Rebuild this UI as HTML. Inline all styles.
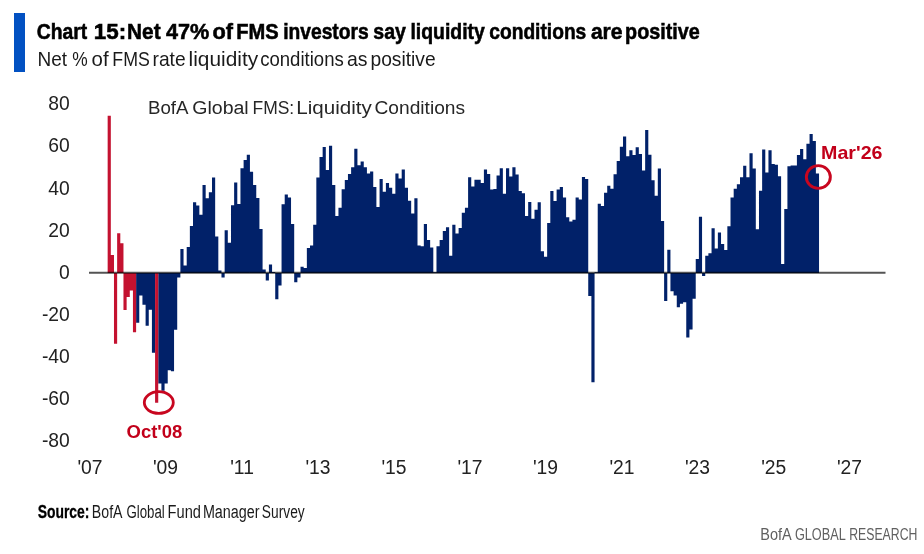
<!DOCTYPE html>
<html><head><meta charset="utf-8"><style>
html,body{margin:0;padding:0;background:#fff;width:924px;height:554px;overflow:hidden}
svg{display:block;will-change:transform}
text{font-family:"Liberation Sans",sans-serif}
.ax{font-size:19.3px;fill:#222}
</style></head><body>
<svg width="924" height="554" viewBox="0 0 924 554">
<rect x="0" y="0" width="924" height="554" fill="#fff"/>
<rect x="14" y="13" width="11" height="59" fill="#0251C2"/>
<text x="36.81" y="39" font-size="21.5" font-weight="bold" fill="#000" stroke="#000" stroke-width="0.55" textLength="50.43" lengthAdjust="spacingAndGlyphs">Chart</text><text x="93.79" y="39" font-size="21.5" font-weight="bold" fill="#000" stroke="#000" stroke-width="0.55" textLength="32.36" lengthAdjust="spacingAndGlyphs">15:</text><text x="127.11" y="39" font-size="21.5" font-weight="bold" fill="#000" stroke="#000" stroke-width="0.55" textLength="33.44" lengthAdjust="spacingAndGlyphs">Net</text><text x="166.07" y="39" font-size="21.5" font-weight="bold" fill="#000" stroke="#000" stroke-width="0.55" textLength="43.30" lengthAdjust="spacingAndGlyphs">47%</text><text x="212.45" y="39" font-size="21.5" font-weight="bold" fill="#000" stroke="#000" stroke-width="0.55" textLength="20.51" lengthAdjust="spacingAndGlyphs">of</text><text x="236.26" y="39" font-size="21.5" font-weight="bold" fill="#000" stroke="#000" stroke-width="0.55" textLength="42.43" lengthAdjust="spacingAndGlyphs">FMS</text><text x="283.16" y="39" font-size="21.5" font-weight="bold" fill="#000" stroke="#000" stroke-width="0.55" textLength="85.53" lengthAdjust="spacingAndGlyphs">investors</text><text x="373.31" y="39" font-size="21.5" font-weight="bold" fill="#000" stroke="#000" stroke-width="0.55" textLength="32.59" lengthAdjust="spacingAndGlyphs">say</text><text x="410.44" y="39" font-size="21.5" font-weight="bold" fill="#000" stroke="#000" stroke-width="0.55" textLength="74.46" lengthAdjust="spacingAndGlyphs">liquidity</text><text x="489.25" y="39" font-size="21.5" font-weight="bold" fill="#000" stroke="#000" stroke-width="0.55" textLength="97.04" lengthAdjust="spacingAndGlyphs">conditions</text><text x="590.88" y="39" font-size="21.5" font-weight="bold" fill="#000" stroke="#000" stroke-width="0.55" textLength="31.64" lengthAdjust="spacingAndGlyphs">are</text><text x="625.10" y="39" font-size="21.5" font-weight="bold" fill="#000" stroke="#000" stroke-width="0.55" textLength="74.58" lengthAdjust="spacingAndGlyphs">positive</text>
<text x="37.44" y="65.7" font-size="19.8" fill="#1a1a1a"  textLength="29.60" lengthAdjust="spacingAndGlyphs">Net</text><text x="72.28" y="65.7" font-size="19.8" fill="#1a1a1a"  textLength="15.44" lengthAdjust="spacingAndGlyphs">%</text><text x="91.54" y="65.7" font-size="19.8" fill="#1a1a1a"  textLength="17.03" lengthAdjust="spacingAndGlyphs">of</text><text x="112.34" y="65.7" font-size="19.8" fill="#1a1a1a"  textLength="37.47" lengthAdjust="spacingAndGlyphs">FMS</text><text x="152.52" y="65.7" font-size="19.8" fill="#1a1a1a"  textLength="33.13" lengthAdjust="spacingAndGlyphs">rate</text><text x="188.59" y="65.7" font-size="19.8" fill="#1a1a1a"  textLength="69.55" lengthAdjust="spacingAndGlyphs">liquidity</text><text x="260.21" y="65.7" font-size="19.8" fill="#1a1a1a"  textLength="83.56" lengthAdjust="spacingAndGlyphs">conditions</text><text x="347.07" y="65.7" font-size="19.8" fill="#1a1a1a"  textLength="20.53" lengthAdjust="spacingAndGlyphs">as</text><text x="370.46" y="65.7" font-size="19.8" fill="#1a1a1a"  textLength="65.19" lengthAdjust="spacingAndGlyphs">positive</text>
<text x="147.96" y="113.6" font-size="18" fill="#262626"  textLength="40.57" lengthAdjust="spacingAndGlyphs">BofA</text><text x="192.22" y="113.6" font-size="18" fill="#262626"  textLength="56.49" lengthAdjust="spacingAndGlyphs">Global</text><text x="252.47" y="113.6" font-size="18" fill="#262626"  textLength="41.73" lengthAdjust="spacingAndGlyphs">FMS:</text><text x="296.31" y="113.6" font-size="18" fill="#262626"  textLength="75.53" lengthAdjust="spacingAndGlyphs">Liquidity</text><text x="374.53" y="113.6" font-size="18" fill="#262626"  textLength="90.57" lengthAdjust="spacingAndGlyphs">Conditions</text>
<text transform="translate(69.8,110.38) scale(1.0,1)" text-anchor="end" class="ax">80</text><text transform="translate(69.8,152.46) scale(1.0,1)" text-anchor="end" class="ax">60</text><text transform="translate(69.8,194.54) scale(1.0,1)" text-anchor="end" class="ax">40</text><text transform="translate(69.8,236.62) scale(1.0,1)" text-anchor="end" class="ax">20</text><text transform="translate(69.8,278.70) scale(1.0,1)" text-anchor="end" class="ax">0</text><text transform="translate(69.8,320.78) scale(1.0,1)" text-anchor="end" class="ax">-20</text><text transform="translate(69.8,362.86) scale(1.0,1)" text-anchor="end" class="ax">-40</text><text transform="translate(69.8,404.94) scale(1.0,1)" text-anchor="end" class="ax">-60</text><text transform="translate(69.8,447.02) scale(1.0,1)" text-anchor="end" class="ax">-80</text>
<text transform="translate(90.0,473.7) scale(1.0,1)" text-anchor="middle" class="ax">'07</text><text transform="translate(165.5,473.7) scale(1.0,1)" text-anchor="middle" class="ax">'09</text><text transform="translate(242.0,473.7) scale(1.0,1)" text-anchor="middle" class="ax">'11</text><text transform="translate(318.0,473.7) scale(1.0,1)" text-anchor="middle" class="ax">'13</text><text transform="translate(394.0,473.7) scale(1.0,1)" text-anchor="middle" class="ax">'15</text><text transform="translate(470.0,473.7) scale(1.0,1)" text-anchor="middle" class="ax">'17</text><text transform="translate(545.5,473.7) scale(1.0,1)" text-anchor="middle" class="ax">'19</text><text transform="translate(622.0,473.7) scale(1.0,1)" text-anchor="middle" class="ax">'21</text><text transform="translate(697.5,473.7) scale(1.0,1)" text-anchor="middle" class="ax">'23</text><text transform="translate(773.7,473.7) scale(1.0,1)" text-anchor="middle" class="ax">'25</text><text transform="translate(849.5,473.7) scale(1.0,1)" text-anchor="middle" class="ax">'27</text>
<path fill="#012169" d="M136.11 272.90h3.162v49.90h-3.162zM139.28 272.90h3.162v22.54h-3.162zM142.44 272.90h3.162v31.80h-3.162zM145.60 272.90h3.162v52.84h-3.162zM148.76 272.90h3.162v36.85h-3.162zM151.92 272.90h3.162v79.77h-3.162zM158.25 272.90h3.162v110.49h-3.162zM161.41 272.90h3.162v117.86h-3.162zM164.57 272.90h3.162v110.49h-3.162zM167.73 272.90h3.162v97.24h-3.162zM170.89 272.90h3.162v98.29h-3.162zM174.06 272.90h3.162v56.84h-3.162zM177.22 272.90h3.162v4.66h-3.162zM180.38 248.95h3.162v24.05h-3.162zM183.54 265.57h3.162v7.43h-3.162zM186.70 247.05h3.162v25.95h-3.162zM189.86 226.01h3.162v46.99h-3.162zM193.03 202.24h3.162v70.76h-3.162zM196.19 205.39h3.162v67.61h-3.162zM199.35 214.86h3.162v58.14h-3.162zM202.51 184.98h3.162v88.02h-3.162zM205.67 198.24h3.162v74.76h-3.162zM208.83 192.14h3.162v80.86h-3.162zM212.00 177.62h3.162v95.38h-3.162zM215.16 236.53h3.162v36.47h-3.162zM218.32 270.62h3.162v2.38h-3.162zM221.48 272.90h3.162v4.66h-3.162zM224.64 230.22h3.162v42.78h-3.162zM227.80 242.84h3.162v30.16h-3.162zM230.97 205.18h3.162v67.82h-3.162zM234.13 182.46h3.162v90.54h-3.162zM237.29 203.92h3.162v69.08h-3.162zM240.45 168.15h3.162v104.85h-3.162zM243.61 159.95h3.162v113.05h-3.162zM246.77 154.69h3.162v118.31h-3.162zM249.94 171.73h3.162v101.27h-3.162zM253.10 184.98h3.162v88.02h-3.162zM256.26 198.03h3.162v74.97h-3.162zM259.42 228.96h3.162v44.04h-3.162zM262.58 269.56h3.162v3.44h-3.162zM265.74 272.90h3.162v7.61h-3.162zM268.91 264.52h3.162v8.48h-3.162zM272.07 271.88h3.162v1.12h-3.162zM275.23 272.90h3.162v26.33h-3.162zM278.39 272.90h3.162v12.66h-3.162zM281.55 204.13h3.162v68.87h-3.162zM284.71 194.45h3.162v78.55h-3.162zM287.88 197.61h3.162v75.39h-3.162zM291.04 224.12h3.162v48.88h-3.162zM294.20 272.90h3.162v9.29h-3.162zM297.36 272.90h3.162v4.66h-3.162zM300.52 266.83h3.162v6.17h-3.162zM303.68 268.09h3.162v4.91h-3.162zM306.85 248.10h3.162v24.90h-3.162zM310.01 245.58h3.162v27.42h-3.162zM313.17 224.75h3.162v48.25h-3.162zM316.33 177.41h3.162v95.59h-3.162zM319.49 157.00h3.162v116.00h-3.162zM322.65 146.90h3.162v126.10h-3.162zM325.82 170.05h3.162v102.95h-3.162zM328.98 145.64h3.162v127.36h-3.162zM332.14 184.98h3.162v88.02h-3.162zM335.30 215.91h3.162v57.09h-3.162zM338.46 207.71h3.162v65.29h-3.162zM341.63 189.19h3.162v83.81h-3.162zM344.79 179.93h3.162v93.07h-3.162zM347.95 174.04h3.162v98.96h-3.162zM351.11 167.31h3.162v105.69h-3.162zM354.27 148.80h3.162v124.20h-3.162zM357.43 165.21h3.162v107.79h-3.162zM360.60 161.42h3.162v111.58h-3.162zM363.76 167.31h3.162v105.69h-3.162zM366.92 173.41h3.162v99.59h-3.162zM370.08 171.52h3.162v101.48h-3.162zM373.24 186.88h3.162v86.12h-3.162zM376.40 207.08h3.162v65.92h-3.162zM379.57 179.09h3.162v93.91h-3.162zM382.73 191.72h3.162v81.28h-3.162zM385.89 182.88h3.162v90.12h-3.162zM389.05 187.72h3.162v85.28h-3.162zM392.21 193.82h3.162v79.18h-3.162zM395.37 173.41h3.162v99.59h-3.162zM398.54 178.46h3.162v94.54h-3.162zM401.70 169.62h3.162v103.38h-3.162zM404.86 187.72h3.162v85.28h-3.162zM408.02 200.76h3.162v72.24h-3.162zM411.18 213.39h3.162v59.61h-3.162zM414.34 198.24h3.162v74.76h-3.162zM417.51 245.58h3.162v27.42h-3.162zM420.67 246.21h3.162v26.79h-3.162zM423.83 224.12h3.162v48.88h-3.162zM426.99 239.90h3.162v33.10h-3.162zM430.15 247.47h3.162v25.53h-3.162zM433.31 272.30h3.162v0.70h-3.162zM436.48 246.21h3.162v26.79h-3.162zM439.64 239.90h3.162v33.10h-3.162zM442.80 231.06h3.162v41.94h-3.162zM445.96 227.27h3.162v45.73h-3.162zM449.12 255.68h3.162v17.32h-3.162zM452.28 224.75h3.162v48.25h-3.162zM455.45 233.59h3.162v39.41h-3.162zM458.61 227.91h3.162v45.09h-3.162zM461.77 212.76h3.162v60.24h-3.162zM464.93 207.71h3.162v65.29h-3.162zM468.09 177.20h3.162v95.80h-3.162zM471.25 186.46h3.162v86.54h-3.162zM474.42 179.72h3.162v93.28h-3.162zM477.58 179.72h3.162v93.28h-3.162zM480.74 183.09h3.162v89.91h-3.162zM483.90 169.62h3.162v103.38h-3.162zM487.06 174.04h3.162v98.96h-3.162zM490.23 189.61h3.162v83.39h-3.162zM493.39 188.98h3.162v84.02h-3.162zM496.55 175.52h3.162v97.48h-3.162zM499.71 168.36h3.162v104.64h-3.162zM502.87 193.82h3.162v79.18h-3.162zM506.03 168.36h3.162v104.64h-3.162zM509.20 176.57h3.162v96.43h-3.162zM512.36 167.31h3.162v105.69h-3.162zM515.52 174.46h3.162v98.54h-3.162zM518.68 191.09h3.162v81.91h-3.162zM521.84 193.19h3.162v79.81h-3.162zM525.00 215.91h3.162v57.09h-3.162zM528.17 202.03h3.162v70.97h-3.162zM531.33 218.65h3.162v54.35h-3.162zM534.49 209.81h3.162v63.19h-3.162zM537.65 202.24h3.162v70.76h-3.162zM540.81 251.26h3.162v21.74h-3.162zM543.97 256.73h3.162v16.27h-3.162zM547.14 223.07h3.162v49.93h-3.162zM550.30 190.88h3.162v82.12h-3.162zM553.46 200.97h3.162v72.03h-3.162zM556.62 189.40h3.162v83.60h-3.162zM559.78 186.88h3.162v86.12h-3.162zM562.94 197.61h3.162v75.39h-3.162zM566.11 217.18h3.162v55.82h-3.162zM569.27 221.38h3.162v51.62h-3.162zM572.43 219.70h3.162v53.30h-3.162zM575.59 197.61h3.162v75.39h-3.162zM578.75 199.50h3.162v73.50h-3.162zM581.91 176.99h3.162v96.01h-3.162zM585.08 178.88h3.162v94.12h-3.162zM588.24 272.90h3.162v23.18h-3.162zM591.40 272.90h3.162v109.23h-3.162zM594.56 272.30h3.162v0.70h-3.162zM597.72 203.71h3.162v69.29h-3.162zM600.88 206.02h3.162v66.98h-3.162zM604.05 192.77h3.162v80.23h-3.162zM607.21 185.83h3.162v87.17h-3.162zM610.37 188.77h3.162v84.23h-3.162zM613.53 174.25h3.162v98.75h-3.162zM616.69 161.00h3.162v112.00h-3.162zM619.85 146.69h3.162v126.31h-3.162zM623.02 136.59h3.162v136.41h-3.162zM626.18 156.16h3.162v116.84h-3.162zM629.34 150.27h3.162v122.73h-3.162zM632.50 155.11h3.162v117.89h-3.162zM635.66 147.32h3.162v125.68h-3.162zM638.82 154.06h3.162v118.94h-3.162zM641.99 170.47h3.162v102.53h-3.162zM645.15 130.07h3.162v142.93h-3.162zM648.31 154.69h3.162v118.31h-3.162zM651.47 180.14h3.162v92.86h-3.162zM654.63 195.71h3.162v77.29h-3.162zM657.80 168.57h3.162v104.43h-3.162zM660.96 220.96h3.162v52.04h-3.162zM664.12 272.90h3.162v28.22h-3.162zM667.28 249.79h3.162v23.21h-3.162zM670.44 272.90h3.162v18.34h-3.162zM673.60 272.90h3.162v22.54h-3.162zM676.77 272.90h3.162v34.33h-3.162zM679.93 272.90h3.162v30.75h-3.162zM683.09 272.90h3.162v29.28h-3.162zM686.25 272.90h3.162v64.62h-3.162zM689.41 272.90h3.162v56.63h-3.162zM692.57 272.90h3.162v25.91h-3.162zM695.74 259.04h3.162v13.96h-3.162zM698.90 216.75h3.162v56.25h-3.162zM702.06 272.90h3.162v3.19h-3.162zM705.22 255.68h3.162v17.32h-3.162zM708.38 253.36h3.162v19.64h-3.162zM711.54 228.33h3.162v44.67h-3.162zM714.71 248.52h3.162v24.48h-3.162zM717.87 232.53h3.162v40.47h-3.162zM721.03 244.11h3.162v28.89h-3.162zM724.19 250.00h3.162v23.00h-3.162zM727.35 226.22h3.162v46.78h-3.162zM730.51 197.40h3.162v75.60h-3.162zM733.68 188.77h3.162v84.23h-3.162zM736.84 184.14h3.162v88.86h-3.162zM740.00 177.20h3.162v95.80h-3.162zM743.16 165.63h3.162v107.37h-3.162zM746.32 177.20h3.162v95.80h-3.162zM749.48 153.21h3.162v119.79h-3.162zM752.65 168.57h3.162v104.43h-3.162zM755.81 229.17h3.162v43.83h-3.162zM758.97 190.66h3.162v82.34h-3.162zM762.13 149.43h3.162v123.57h-3.162zM765.29 172.57h3.162v100.43h-3.162zM768.45 150.27h3.162v122.73h-3.162zM771.62 163.94h3.162v109.06h-3.162zM774.78 164.79h3.162v108.21h-3.162zM777.94 176.36h3.162v96.64h-3.162zM781.10 263.88h3.162v9.12h-3.162zM784.26 208.97h3.162v64.03h-3.162zM787.42 166.26h3.162v106.74h-3.162zM790.59 165.42h3.162v107.58h-3.162zM793.75 165.42h3.162v107.58h-3.162zM796.91 154.90h3.162v118.10h-3.162zM800.07 149.01h3.162v123.99h-3.162zM803.23 159.32h3.162v113.68h-3.162zM806.40 143.75h3.162v129.25h-3.162zM809.56 134.07h3.162v138.93h-3.162zM812.72 141.01h3.162v131.99h-3.162zM815.88 173.62h3.162v99.38h-3.162z"/>
<path fill="#C41230" d="M107.66 115.76h3.162v157.24h-3.162zM110.82 255.05h3.162v17.95h-3.162zM113.98 272.90h3.162v70.94h-3.162zM117.14 233.17h3.162v39.83h-3.162zM120.31 243.26h3.162v29.74h-3.162zM123.47 272.90h3.162v37.06h-3.162zM126.63 272.90h3.162v24.02h-3.162zM129.79 272.90h3.162v17.49h-3.162zM132.95 272.90h3.162v59.36h-3.162zM155.08 272.90h3.162v129.85h-3.162z"/>
<line x1="89" y1="272.7" x2="885.5" y2="272.7" stroke="#000" stroke-opacity="0.67" stroke-width="1.9"/>
<ellipse cx="818.35" cy="177" rx="12.0" ry="11.4" fill="none" stroke="#C8061F" stroke-width="2.9"/>
<ellipse cx="158.8" cy="402.55" rx="14.5" ry="10.9" fill="none" stroke="#C8061F" stroke-width="2.8"/>
<text x="821.09" y="158.6" font-size="18.6" font-weight="bold" fill="#C2001A"  textLength="61.42" lengthAdjust="spacingAndGlyphs">Mar'26</text>
<text x="126.54" y="437.9" font-size="18.8" font-weight="bold" fill="#C2001A"  textLength="55.73" lengthAdjust="spacingAndGlyphs">Oct'08</text>
<text x="37.70" y="517.7" font-size="18" font-weight="bold" fill="#000" stroke="#000" stroke-width="0.3" textLength="51.74" lengthAdjust="spacingAndGlyphs">Source:</text><text x="91.84" y="517.7" font-size="18" fill="#1a1a1a"  textLength="30.69" lengthAdjust="spacingAndGlyphs">BofA</text><text x="126.43" y="517.7" font-size="18" fill="#1a1a1a"  textLength="38.35" lengthAdjust="spacingAndGlyphs">Global</text><text x="167.60" y="517.7" font-size="18" fill="#1a1a1a"  textLength="33.34" lengthAdjust="spacingAndGlyphs">Fund</text><text x="202.92" y="517.7" font-size="18" fill="#1a1a1a"  textLength="56.61" lengthAdjust="spacingAndGlyphs">Manager</text><text x="261.87" y="517.7" font-size="18" fill="#1a1a1a"  textLength="42.85" lengthAdjust="spacingAndGlyphs">Survey</text>
<text x="760.31" y="539.8" font-size="17.2" fill="#606060"  textLength="31.42" lengthAdjust="spacingAndGlyphs">BofA</text><text x="794.96" y="539.8" font-size="17.2" fill="#606060"  textLength="50.76" lengthAdjust="spacingAndGlyphs">GLOBAL</text><text x="849.19" y="539.8" font-size="17.2" fill="#606060"  textLength="68.21" lengthAdjust="spacingAndGlyphs">RESEARCH</text>
</svg>
</body></html>
